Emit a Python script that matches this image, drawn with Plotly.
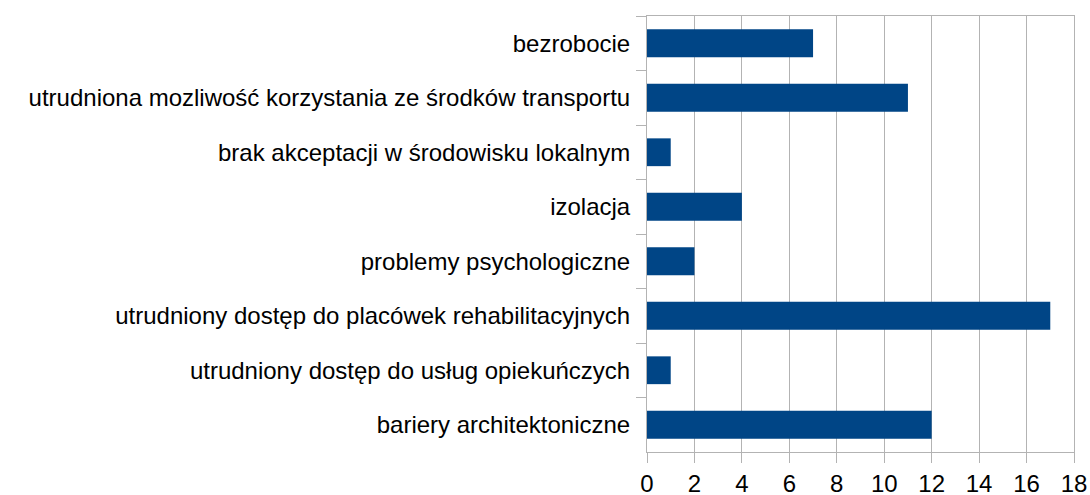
import plotly.graph_objects as go

categories = [
    "bezrobocie",
    "utrudniona mozliwość korzystania ze środków transportu",
    "brak akceptacji w środowisku lokalnym",
    "izolacja",
    "problemy psychologiczne",
    "utrudniony dostęp do placówek rehabilitacyjnych",
    "utrudniony dostęp do usług opiekuńczych",
    "bariery architektoniczne",
]
values = [7, 11, 1, 4, 2, 17, 1, 12]
x_ticks = [0, 2, 4, 6, 8, 10, 12, 14, 16, 18]

fig = go.Figure(go.Bar(
    x=values, y=categories, orientation="h",
    marker=dict(color="#004586", line=dict(width=0)),
))

grid = "#b3b3b3"
fig.update_layout(
    width=1090, height=495,
    margin=dict(l=647, r=16, t=16, b=43),
    paper_bgcolor="white", plot_bgcolor="white",
    bargap=0.49,
    showlegend=False,
    font=dict(family="Liberation Sans", size=24, color="#000000"),
)
fig.update_xaxes(
    range=[0, 18], tickvals=x_ticks, ticktext=[str(t) for t in x_ticks],
    showgrid=True, gridcolor=grid, gridwidth=1,
    showline=True, linecolor=grid, linewidth=1, mirror=True,
    ticks="outside", ticklen=10, tickcolor=grid, tickwidth=1,
    tickfont=dict(size=24), zeroline=False, automargin=False,
)
fig.update_yaxes(
    autorange="reversed", tickson="boundaries",
    showgrid=False,
    showline=True, linecolor=grid, linewidth=1, mirror=True,
    ticks="outside", ticklen=10, tickcolor=grid, tickwidth=1,
    tickfont=dict(size=24), automargin=False, ticklabelstandoff=11,
)

# remove the default page margin so the figure fills the window exactly
fig.write_html(
    "out.html",
    config={"displayModeBar": False},
    post_script="document.body.style.margin='0';document.body.style.overflow='hidden';",
)
